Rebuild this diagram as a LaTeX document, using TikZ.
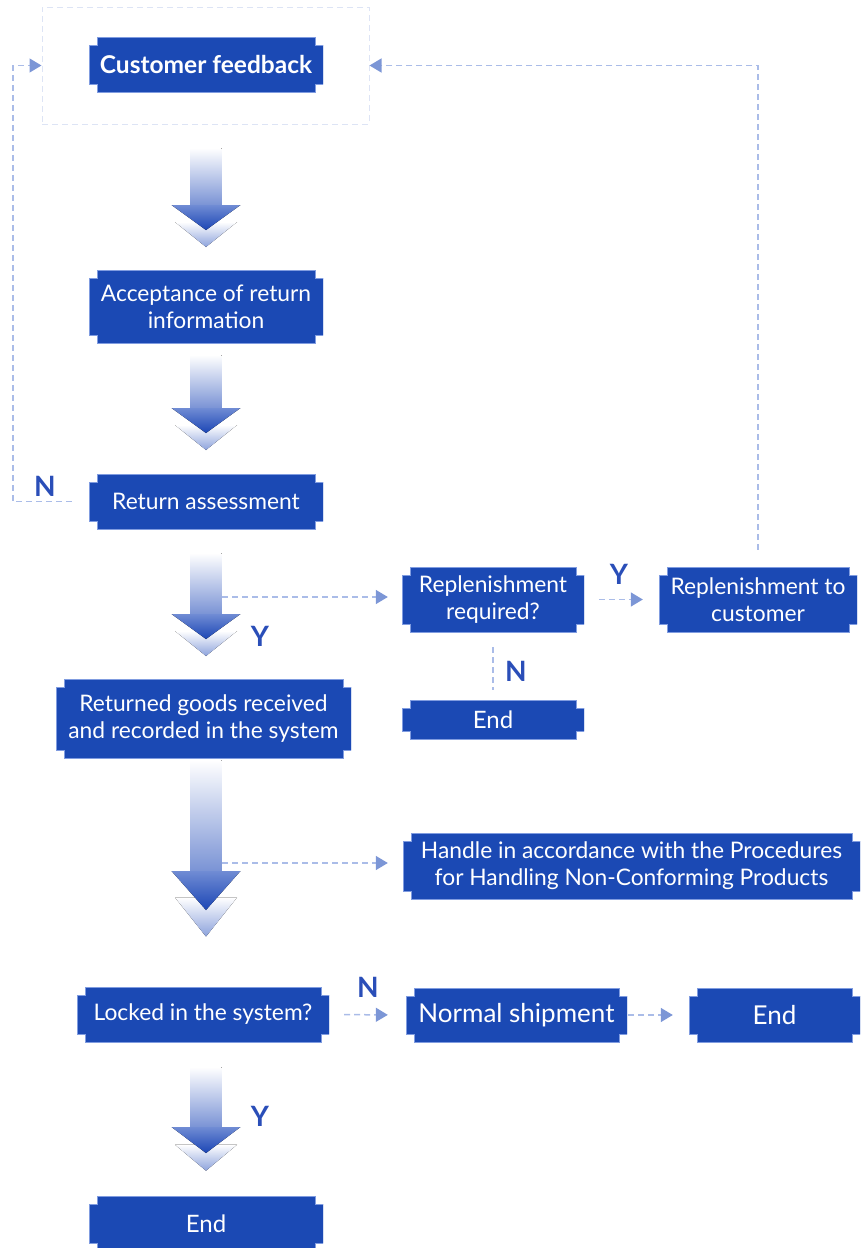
\documentclass[tikz,border=0pt]{standalone}
\usepackage{fontspec}
\setmainfont{Lato}
\usetikzlibrary{arrows.meta,calc}
\definecolor{boxblue}{RGB}{27,73,180}
\definecolor{boxline}{RGB}{128,156,224}
\definecolor{dashblue}{RGB}{170,188,232}
\definecolor{tipblue}{RGB}{124,150,214}
\definecolor{framegray}{RGB}{221,228,245}
\definecolor{labelblue}{RGB}{42,78,184}
\definecolor{shaftblue}{RGB}{122,147,213}
\definecolor{headtop}{RGB}{112,140,212}
\definecolor{headbot}{RGB}{28,70,181}
\definecolor{chevblue}{RGB}{140,162,220}
\tikzset{
  wh/.style 2 args={minimum width=#1pt,minimum height=#2pt},
  stage/.style={rectangle,inner sep=0pt,align=center,text=white,
    font=\fontsize{22.8}{27}\selectfont,
    path picture={
      \fill[boxblue,draw=boxline,line width=1pt]
        let \p1=(path picture bounding box.north west),
            \p2=(path picture bounding box.south east) in
        (\x1+8pt,\y1) -- (\x2-8pt,\y1) -- (\x2-8pt,\y1-8pt) -- (\x2,\y1-8pt)
        -- (\x2,\y2+8pt) -- (\x2-8pt,\y2+8pt) -- (\x2-8pt,\y2) -- (\x1+8pt,\y2)
        -- (\x1+8pt,\y2+8pt) -- (\x1,\y2+8pt) -- (\x1,\y1-8pt) -- (\x1+8pt,\y1-8pt) -- cycle;
    }},
  endbox/.style={stage,font=\fontsize{24}{28}\selectfont},
  flow/.style={draw=dashblue,line width=1.5pt,dash pattern=on 6pt off 4pt,
    -{Triangle[length=12pt,width=14pt,color=tipblue]}},
  flowline/.style={draw=dashblue,line width=1.5pt,dash pattern=on 6pt off 4pt},
  yn/.style={text=labelblue,inner sep=0pt,font=\fontsize{28}{28}\selectfont\bfseries},
  % big gradient arrow: shaft length, head length
  pics/downflow/.style 2 args={code={
    \fill[top color=white,bottom color=chevblue] (-31,#1+0.68*#2) -- (31,#1+0.68*#2) -- (0,#1+1.68*#2) -- cycle;
    \fill[top color=white,bottom color=shaftblue] (-15.5,0) rectangle (15.5,#1);
    \fill[top color=headtop,bottom color=headbot] (-34.5,#1) -- (34.5,#1) -- (0,#1+#2) -- cycle;
  }},
}
\begin{document}
\begin{tikzpicture}[x=1pt,y=-1pt]
  \useasboundingbox (0,0) rectangle (862,1248);
  \node[draw=framegray,line width=1pt,dash pattern=on 6pt off 4pt,wh={327}{117}] (frame) at (205.5,65.5) {};
  \node[stage,wh={234}{55},font=\fontsize{24.5}{28}\selectfont\bfseries] (fb) at (206,64.5) {Customer feedback};
  \node[stage,wh={234}{73}] (acc) at (206,306.5) {Acceptance of return\\information};
  \node[stage,wh={234}{55}] (ass) at (206,501.5) {Return assessment};
  \node[stage,wh={295}{79}] (rec) at (203.5,718.5) {Returned goods received\\and recorded in the system};
  \node[stage,wh={182}{65}] (req) at (493,599.5) {Replenishment\\required?};
  \node[stage,wh={198}{65}] (cust) at (758,599.5) {Replenishment to\\customer};
  \node[endbox,wh={182}{39}] (end1) at (493,719.5) {End};
  \node[stage,wh={457}{66}] (hdl) at (631.5,866) {Handle in accordance with the Procedures\\for Handling Non-Conforming Products};
  \node[stage,wh={252}{55}] (lock) at (203,1014.5) {Locked in the system?};
  \node[endbox,wh={221}{54},font=\fontsize{26}{30}\selectfont] (ship) at (516.5,1015) {Normal shipment};
  \node[endbox,wh={171}{54},font=\fontsize{26}{30}\selectfont] (end2) at (774.5,1015) {End};
  \node[endbox,wh={234}{55}] (end3) at (206,1223.5) {End};

  \pic at (206,148) {downflow={57}{25}};
  \pic at (206,355) {downflow={53}{25}};
  \pic at (206,553) {downflow={61}{25}};
  \pic at (206,760) {downflow={111}{39}};
  \pic at (206,1067) {downflow={60}{26}};

  \coordinate (t3) at (222,597);
  \coordinate (t4) at (222,863);
  \draw[flow,shorten >=14pt] (t3) -- (t3 -| req.west);
  \draw[flow,shorten >=15pt] (t4) -- (t4 -| hdl.west);
  \draw[flow,shorten <=15pt,shorten >=16pt] (req.east) -- (cust.west);
  \draw[flowline,shorten <=15pt,shorten >=10pt] (req.south) -- (end1.north);
  \draw[flow,shorten <=15pt,shorten >=18pt] (lock.east) -- (ship.west);
  \draw[flow,shorten <=1pt,shorten >=16pt] (ship.east) -- (end2.west);
  \draw[flow] ([xshift=-17pt]ass.west) -- ++(-59,0) |- (frame.west);
  \draw[flow] ([yshift=17pt]cust.north) |- (frame.east);

  \node[yn] (n1) at (45,486) {N};
  \node[yn] (y1) at (260,636) {Y};
  \node[yn] (y2) at (619,574) {Y};
  \node[yn] (n2) at (516,671) {N};
  \node[yn] (n3) at (368,987) {N};
  \node[yn] (y3) at (260,1116) {Y};
\end{tikzpicture}
\end{document}
